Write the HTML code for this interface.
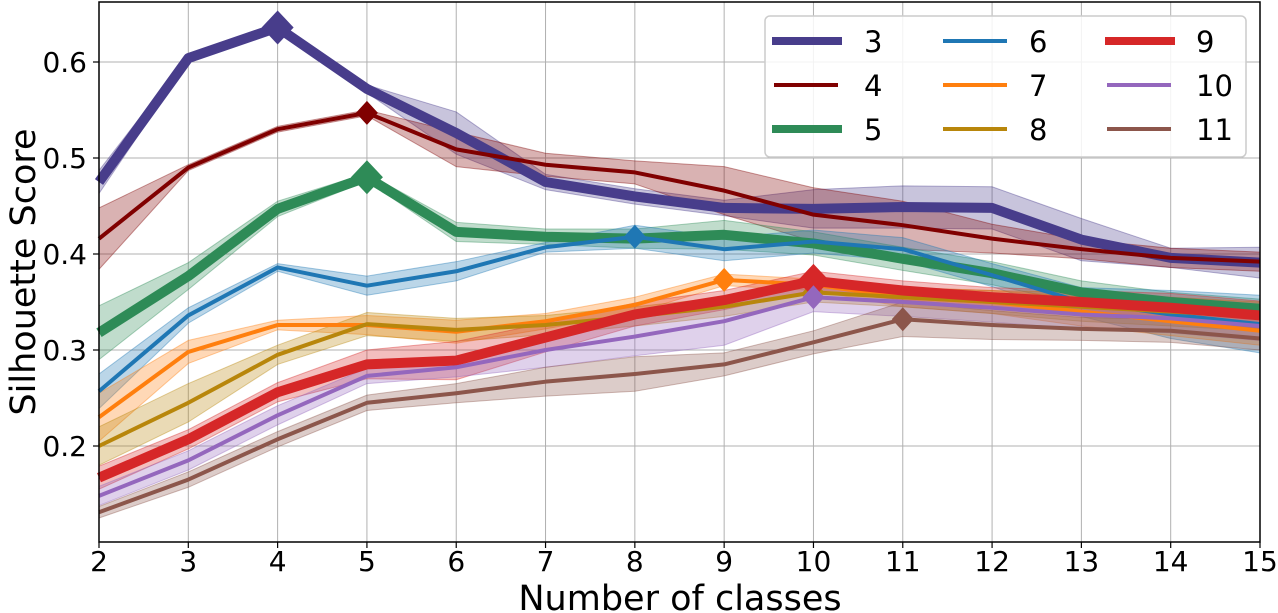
<!DOCTYPE html>
<html><head><meta charset="utf-8"><style>
body{margin:0;background:#fff;}
svg{display:block;font-family:"DejaVu Sans","Liberation Sans",sans-serif;}
</style></head><body>
<svg id="chart" width="1278" height="613" viewBox="0 0 1278 613" xmlns="http://www.w3.org/2000/svg">
<g id="grid"></g><g id="bands"></g><g id="lines"></g><g id="axes"></g><g id="legend"></g>
</svg>
<script>
const xCats = [2,3,4,5,6,7,8,9,10,11,12,13,14,15];
const yTicks = [0.2,0.3,0.4,0.5,0.6];
const seriesNames = ['3','4','5','6','7','8','9','10','11'];
const s3 = [0.475,0.604,0.636,0.572,0.526,0.475,0.460,0.448,0.447,0.449,0.448,0.415,0.396,0.391];
const s4 = [0.416,0.490,0.530,0.547,0.509,0.493,0.485,0.466,0.441,0.430,0.416,0.405,0.396,0.392];
const s5 = [0.318,0.377,0.447,0.480,0.423,0.418,0.416,0.420,0.411,0.395,0.380,0.360,0.350,0.343];
const s6 = [0.257,0.336,0.386,0.367,0.382,0.407,0.418,0.405,0.413,0.405,0.378,0.350,0.337,0.327];
const s7 = [0.230,0.298,0.326,0.326,0.319,0.330,0.347,0.373,0.368,0.355,0.350,0.340,0.330,0.320];
const s8 = [0.200,0.245,0.295,0.327,0.321,0.326,0.335,0.345,0.360,0.355,0.350,0.345,0.340,0.335];
const s9 = [0.167,0.207,0.256,0.285,0.289,0.313,0.337,0.352,0.372,0.362,0.355,0.350,0.344,0.336];
const s10 = [0.148,0.185,0.232,0.273,0.282,0.300,0.314,0.330,0.355,0.350,0.344,0.337,0.333,0.325];
const s11 = [0.131,0.165,0.207,0.245,0.255,0.267,0.275,0.285,0.308,0.332,0.326,0.322,0.320,0.312];
const e3 = [0.012,0.003,0.004,0.004,0.022,0.008,0.008,0.008,0.02,0.022,0.022,0.022,0.01,0.016];
const e4 = [0.032,0.003,0.003,0.003,0.018,0.012,0.012,0.025,0.028,0.025,0.015,0.01,0.01,0.01];
const e5 = [0.028,0.014,0.008,0.004,0.01,0.008,0.01,0.015,0.012,0.012,0.012,0.012,0.01,0.01];
const e6 = [0.018,0.008,0.004,0.01,0.01,0.005,0.012,0.012,0.012,0.012,0.012,0.015,0.025,0.03];
const e7 = [0.025,0.012,0.005,0.01,0.012,0.008,0.008,0.006,0.006,0.01,0.012,0.015,0.015,0.015];
const e8 = [0.02,0.02,0.01,0.012,0.012,0.01,0.01,0.01,0.01,0.01,0.012,0.015,0.015,0.015];
const e9 = [0.012,0.01,0.01,0.015,0.02,0.015,0.012,0.01,0.01,0.01,0.01,0.012,0.015,0.015];
const e10 = [0.01,0.01,0.01,0.008,0.01,0.018,0.02,0.025,0.015,0.015,0.015,0.015,0.015,0.015];
const e11 = [0.006,0.008,0.008,0.008,0.01,0.015,0.018,0.012,0.012,0.018,0.015,0.012,0.012,0.012];

const vals=[s3,s4,s5,s6,s7,s8,s9,s10,s11], errs=[e3,e4,e5,e6,e7,e8,e9,e10,e11];
const colors=['#483d8b','#800000','#2e8b57','#1f77b4','#ff7f0e','#b8860b','#d62728','#9467bd','#8c564b'];
const widths=[10,4,10,4,4,4,10,4,4];
const X0=99,X1=1260,Y0=2,Y1=542;
const xs=v=>X0+(v-2)*(X1-X0)/13;
const ys=v=>638-v*960;
const NS='http://www.w3.org/2000/svg';
function mk(t,a,p){const e=document.createElementNS(NS,t);for(const k in a)e.setAttribute(k,a[k]);p.appendChild(e);return e;}
const G=document.getElementById('grid'),B=document.getElementById('bands'),L=document.getElementById('lines'),A=document.getElementById('axes'),LG=document.getElementById('legend');
xCats.forEach(c=>{const l=mk('line',{x1:xs(c),x2:xs(c),y1:Y0,y2:Y1,stroke:'#b0b0b0','stroke-width':1},G);


mk('line',{x1:xs(c),x2:xs(c),y1:Y1,y2:Y1+6,stroke:'#000','stroke-width':1.2},A);
const t=mk('text',{x:xs(c),y:571,'text-anchor':'middle','font-size':28,fill:'#000'},A);t.textContent=c;

});
yTicks.forEach(v=>{const l=mk('line',{x1:X0,x2:X1,y1:ys(v),y2:ys(v),stroke:'#b0b0b0','stroke-width':1},G);


mk('line',{x1:X0-6,x2:X0,y1:ys(v),y2:ys(v),stroke:'#000','stroke-width':1.2},A);
const t=mk('text',{x:87,y:ys(v)+10,'text-anchor':'end','font-size':28,fill:'#000'},A);t.textContent=v.toFixed(1);

});
vals.forEach((s,i)=>{
 let up=s.map((v,j)=>xs(xCats[j])+','+ys(v+errs[i][j])),dn=s.map((v,j)=>xs(xCats[j])+','+ys(v-errs[i][j])).reverse();
 const p=mk('polygon',{points:up.concat(dn).join(' '),fill:colors[i],'fill-opacity':0.3,stroke:colors[i],'stroke-opacity':0.4},B);
 
 
 const pl=mk('polyline',{points:s.map((v,j)=>xs(xCats[j])+','+ys(v)).join(' '),fill:'none',stroke:colors[i],'stroke-width':widths[i],'stroke-linejoin':'round'},L);
 
 
 let m=0;s.forEach((v,j)=>{if(v>s[m])m=j;});
 const cx=xs(xCats[m]),cy=ys(s[m]),r=widths[i]>5?17:12,w=widths[i]>5?16:11;
 const d=mk('polygon',{points:`${cx},${cy-r} ${cx+w},${cy} ${cx},${cy+r} ${cx-w},${cy}`,fill:colors[i]},L);
 
 
});
mk('rect',{x:X0,y:Y0,width:X1-X0,height:Y1-Y0,fill:'none',stroke:'#000','stroke-width':1.5},A);
const xt=mk('text',{x:680,y:610,'text-anchor':'middle','font-size':35},A);xt.textContent='Number of classes';

const yt=mk('text',{x:0,y:0,'text-anchor':'middle','font-size':35,transform:'translate(35,272) rotate(-90)'},A);yt.textContent='Silhouette Score';

const box=mk('rect',{x:765,y:16,width:481,height:141,rx:5,fill:'#fff','fill-opacity':0.85,stroke:'#ccc','stroke-width':1.5},LG);

const colX=[772,941,1105],labX=[864,1029,1196],rowY=[41,85,129];
seriesNames.forEach((n,i)=>{const c=Math.floor(i/3),r=i%3;
 const lx=colX[c],ly=rowY[r];
 const ln=mk('line',{x1:lx+(widths[i]>5?0:2),x2:lx+(widths[i]>5?70:66),y1:ly,y2:ly,stroke:colors[i],'stroke-width':widths[i]>5?8:4},LG);
 
 const t=mk('text',{x:labX[c],y:ly+11,'font-size':29},LG);t.textContent=n;
 });
</script>
</body></html>
